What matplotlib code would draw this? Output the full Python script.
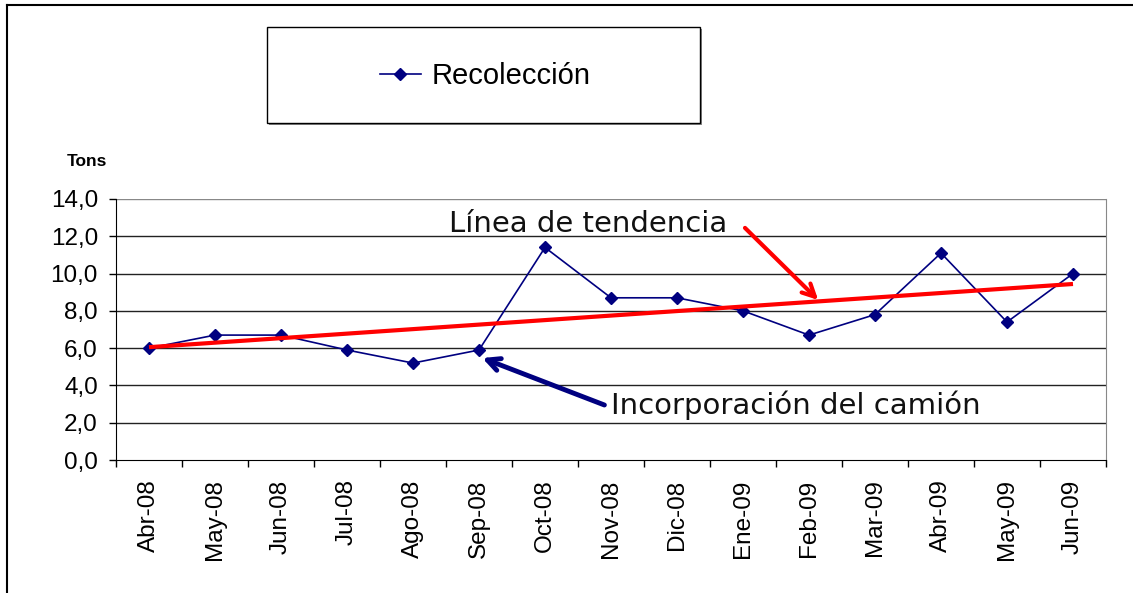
import numpy as np
import matplotlib
matplotlib.use("Agg")
import matplotlib.pyplot as plt
from matplotlib.lines import Line2D
from matplotlib.patches import Rectangle

months = ["Abr-08", "May-08", "Jun-08", "Jul-08", "Ago-08", "Sep-08", "Oct-08",
          "Nov-08", "Dic-08", "Ene-09", "Feb-09", "Mar-09", "Abr-09", "May-09", "Jun-09"]
recoleccion = [6.0, 6.7, 6.7, 5.9, 5.2, 5.9, 11.4, 8.7, 8.7, 8.0, 6.7, 7.8, 11.1, 7.4, 10.0]
yticks = [0, 2, 4, 6, 8, 10, 12, 14]
ytick_labels = ["0,0", "2,0", "4,0", "6,0", "8,0", "10,0", "12,0", "14,0"]

W, H = 1133, 593
fig = plt.figure(figsize=(W / 100, H / 100), dpi=100)
fig.patch.set_facecolor("white")

def fx(px):
    return px / W

def fy(py):
    return 1 - py / H

ax = fig.add_axes([fx(116), fy(460), fx(1106) - fx(116), fy(199) - fy(460)])
x = np.arange(len(months))
navy = "#000080"

ax.set_xlim(-0.5, len(months) - 0.5)
ax.set_ylim(0, 14)

# gridlines
for yv in yticks[1:]:
    ax.axhline(yv, color="#222222" if yv < 14 else "#888888", lw=1.0, zorder=1)

ax.plot(x, recoleccion, color=navy, lw=1.2, marker="D", markersize=6,
        markerfacecolor=navy, markeredgecolor=navy, zorder=3)

# linear trend line
coef = np.polyfit(x, recoleccion, 1)
ax.plot(x, np.polyval(coef, x), color="#ff0000", lw=3, zorder=4,
        solid_capstyle="butt")

# ticks
ax.set_yticks(yticks)
ax.set_yticklabels(ytick_labels, fontsize=17.5, family="Liberation Sans")
ax.set_xticks(np.arange(-0.5, len(months), 1.0))
ax.set_xticklabels([])
ax.set_xticks(x, minor=True)
ax.set_xticklabels(months, minor=True, rotation=90, fontsize=17.5,
                   family="Liberation Sans")
ax.tick_params(axis="x", which="major", direction="out", length=5, width=1, color="black")
ax.tick_params(axis="x", which="minor", length=0, pad=14)
ax.tick_params(axis="y", direction="out", length=5, width=1, color="black", pad=8)

ax.spines["left"].set_color("black")
ax.spines["bottom"].set_color("black")
ax.spines["top"].set_visible(False)
ax.spines["right"].set_color("#888888")

# annotations
ax.text(4.55, 12.66, "Línea de tendencia", fontsize=21, family="DejaVu Sans",
        va="center", ha="left", color="#111111", zorder=6)
ax.annotate("", xy=(10.14, 8.58), xytext=(9.03, 12.45),
            arrowprops=dict(arrowstyle="->,head_length=0.9,head_width=0.45",
                            color="#ff0000", lw=3, shrinkA=0, shrinkB=0), zorder=6)
ax.text(7.0, 2.95, "Incorporación del camión", fontsize=21, family="DejaVu Sans",
        va="center", ha="left", color="#111111", zorder=6)
ax.annotate("", xy=(5.05, 5.47), xytext=(6.90, 2.95),
            arrowprops=dict(arrowstyle="->,head_length=0.9,head_width=0.45",
                            color=navy, lw=3.5, shrinkA=0, shrinkB=0), zorder=6)

# Tons label
fig.text(fx(67), fy(161), "Tons", fontsize=12.5, fontweight="bold",
         family="Liberation Sans", ha="left", va="center")

# legend box with shadow
fig.patches.append(Rectangle((fx(269), fy(125)), fx(700) - fx(267), fy(27) - fy(123),
                             transform=fig.transFigure, facecolor="#888888",
                             edgecolor="none", zorder=0))
fig.patches.append(Rectangle((fx(267), fy(123)), fx(700) - fx(267), fy(27) - fy(123),
                             transform=fig.transFigure, facecolor="white",
                             edgecolor="black", lw=1, zorder=1))
handle = Line2D([], [], color=navy, lw=1.2, marker="D", markersize=6,
                markerfacecolor=navy, markeredgecolor=navy)
leg = fig.legend([handle], ["Recolección"], loc="center left",
                 bbox_to_anchor=(fx(380), fy(76)), frameon=False,
                 prop={"family": "Liberation Sans", "size": 21},
                 handlelength=1.4, handletextpad=0.38, borderpad=0, borderaxespad=0)

# outer frame (top and left edges visible)
fig.add_artist(Line2D([fx(7), 1.0], [fy(5), fy(5)], transform=fig.transFigure,
                      color="black", lw=1.5))
fig.add_artist(Line2D([fx(7), fx(7)], [0.0, fy(5)], transform=fig.transFigure,
                      color="black", lw=1.5))

fig.savefig("out.png", dpi=100, facecolor="white")
